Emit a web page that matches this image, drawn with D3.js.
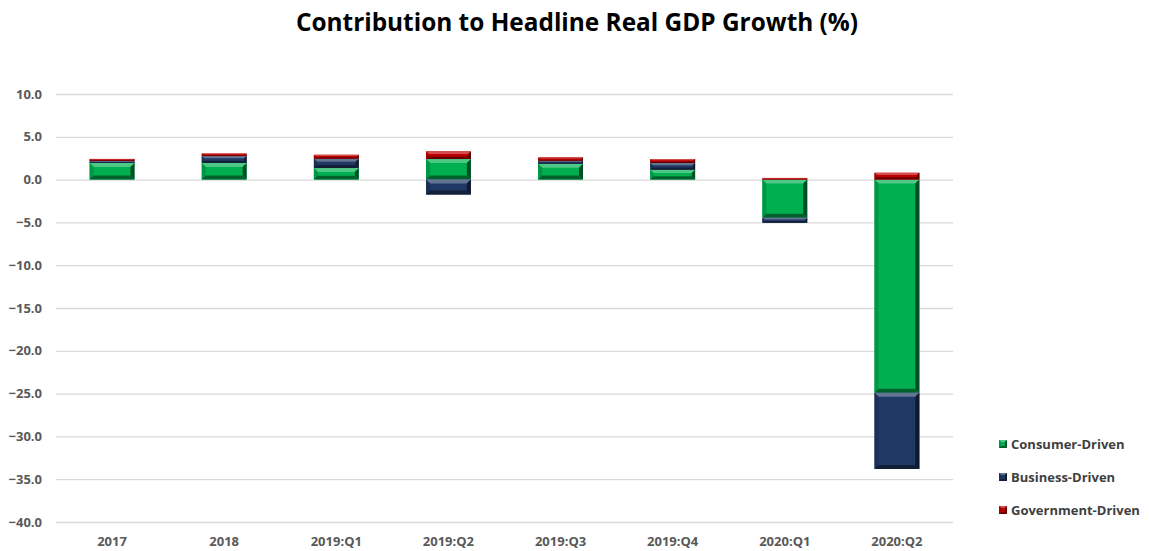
<!DOCTYPE html>
<html>
<head>
<meta charset="utf-8">
<script src="https://cdn.jsdelivr.net/npm/d3@7"></script>
<style>
  body { margin: 0; background: #fff; }
  text { font-family: "Open Sans", Lato, sans-serif; }
  .title { font-size: 24.4px; font-weight: 700; fill: #000; }
  .tick-label { font-size: 13px; font-weight: 700; fill: #595959; }
  .legend-text { font-size: 13px; font-weight: 700; fill: #404040; }
</style>
</head>
<body>
<svg id="chart" width="1149" height="551"></svg>
<script>
// data
var periods = ['2017', '2018', '2019:Q1', '2019:Q2', '2019:Q3', '2019:Q4', '2020:Q1', '2020:Q2'];
var consumer = [1.95, 1.95, 1.35, 2.4, 1.85, 1.15, -4.45, -24.9];
var business = [0.22, 0.8, 1.1, -1.75, 0.35, 0.8, -0.6, -8.9];
var government = [0.25, 0.3, 0.45, 0.9, 0.4, 0.45, 0.2, 0.8];
var seriesNames = ['Consumer-Driven', 'Business-Driven', 'Government-Driven'];
var yTicks = [10, 5, 0, -5, -10, -15, -20, -25, -30, -35, -40];

var colours = {
  'Consumer-Driven': '#00b050',
  'Business-Driven': '#203864',
  'Government-Driven': '#c00000'
};

var svg = d3.select('#chart');

var x = d3.scaleBand()
    .domain(periods)
    .range([56, 953])
    .paddingInner(0.6)
    .paddingOuter(0.3);

var y = d3.scaleLinear()
    .domain([-40, 10])
    .range([522, 94]);

// title
svg.append('text')
    .attr('class', 'title')
    .attr('x', 577)
    .attr('y', 31)
    .attr('text-anchor', 'middle')
    .text('Contribution to Headline Real GDP Growth (%)');

// gridlines
svg.append('g')
    .selectAll('line')
    .data(yTicks)
    .enter().append('line')
    .attr('x1', 56)
    .attr('x2', 953)
    .attr('y1', function(d) { return y(d) + 0.5; })
    .attr('y2', function(d) { return y(d) + 0.5; })
    .style('stroke', '#d9d9d9')
    .style('stroke-width', 1.3);

// y tick labels
svg.append('g')
    .selectAll('text')
    .data(yTicks)
    .enter().append('text')
    .attr('class', 'tick-label')
    .attr('x', 42)
    .attr('y', function(d) { return y(d); })
    .attr('dy', '0.35em')
    .attr('text-anchor', 'end')
    .text(function(d) { return d3.format('.1f')(d); });

// x labels
svg.append('g')
    .selectAll('text')
    .data(periods)
    .enter().append('text')
    .attr('class', 'tick-label')
    .attr('x', function(d) { return x(d) + x.bandwidth() / 2; })
    .attr('y', 546)
    .attr('text-anchor', 'middle')
    .text(function(d) { return d; });

// stacked data
var rows = periods.map(function(p, i) {
  return { period: p, 'Consumer-Driven': consumer[i], 'Business-Driven': business[i], 'Government-Driven': government[i] };
});

var stack = d3.stack()
    .keys(seriesNames)
    .offset(d3.stackOffsetDiverging);

var layers = stack(rows);

// bevelled bar segments
function shade(c, k) {
  return k > 0 ? d3.interpolateRgb(c, '#ffffff')(k) : d3.interpolateRgb(c, '#000000')(-k);
}

function drawSegment(g, x0, x1, y0, y1, colour) {
  var h = y1 - y0, w = x1 - x0;
  if (h < 0.3) return;
  var d = Math.min(4, h / 3, w / 4);
  g.append('rect')
      .attr('x', x0).attr('y', y0).attr('width', w).attr('height', h)
      .style('fill', colour);
  var facets = [
    { pts: [[x0, y0], [x1, y0], [x1 - d, y0 + d], [x0 + d, y0 + d]], k: 0.3 },
    { pts: [[x0, y0], [x0 + d, y0 + d], [x0 + d, y1 - d], [x0, y1]], k: -0.15 },
    { pts: [[x1, y0], [x1, y1], [x1 - d, y1 - d], [x1 - d, y0 + d]], k: -0.55 },
    { pts: [[x0, y1], [x0 + d, y1 - d], [x1 - d, y1 - d], [x1, y1]], k: -0.45 }
  ];
  g.selectAll(null)
      .data(facets)
      .enter().append('polygon')
      .attr('points', function(f) { return f.pts.map(function(p) { return p.join(','); }).join(' '); })
      .style('fill', function(f) { return shade(colour, f.k); });
}

var barGroup = svg.append('g');
layers.forEach(function(layer) {
  var colour = colours[layer.key];
  layer.forEach(function(seg) {
    var top = Math.min(y(seg[0]), y(seg[1]));
    var bottom = Math.max(y(seg[0]), y(seg[1]));
    var x0 = x(seg.data.period);
    drawSegment(barGroup, x0, x0 + x.bandwidth(), top, bottom, colour);
  });
});

// legend
var legend = svg.append('g')
    .attr('transform', 'translate(' + 999 + ',' + 444 + ')');

var items = legend.selectAll('.legend-item')
    .data(seriesNames)
    .enter().append('g')
    .attr('class', 'legend-item')
    .attr('transform', function(d, i) { return 'translate(0,' + (i * 33) + ')'; });

items.each(function(d) {
  drawSegment(d3.select(this), 0, 8, -4, 4, colours[d]);
});

items.append('text')
    .attr('class', 'legend-text')
    .attr('x', 12)
    .attr('y', 0)
    .attr('dy', '0.35em')
    .text(function(d) { return d; });
</script>
</body>
</html>
